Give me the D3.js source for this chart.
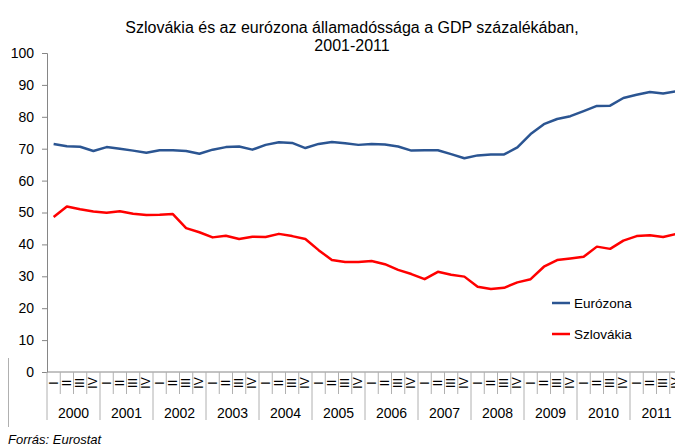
<!DOCTYPE html>
<html>
<head>
<meta charset="utf-8">
<script src="https://cdn.jsdelivr.net/npm/d3@7"></script>
<style>
  body { margin: 0; background: #fff; }
  svg { display: block; font-family: "Liberation Sans", Arial, sans-serif; }
</style>
</head>
<body>
<div id="chart"></div>
<script>
// chart data
const years    = ["2000","2001","2002","2003","2004","2005","2006","2007","2008","2009","2010","2011"]
const quarters = ["I","II","III","IV"]
const eurozone = [71.5,70.8,70.6,69.3,70.5,70.0,69.4,68.7,69.5,69.5,69.3,68.4,
                  69.7,70.5,70.7,69.7,71.2,72.0,71.8,70.2,71.5,72.1,71.7,71.2,
                  71.5,71.3,70.7,69.4,69.5,69.5,68.3,67.0,67.9,68.2,68.2,70.4,
                  74.6,77.7,79.3,80.2,81.8,83.4,83.5,85.9,86.9,87.8,87.3,88.0]
const slovakia = [48.6,51.9,51.0,50.3,49.9,50.4,49.6,49.2,49.3,49.5,45.1,43.8,
                  42.2,42.7,41.7,42.4,42.3,43.3,42.6,41.7,38.2,35.1,34.5,34.5,
                  34.8,33.8,32.0,30.7,29.1,31.4,30.5,29.9,26.7,26.0,26.4,28.1,
                  29.1,33.0,35.1,35.6,36.1,39.3,38.6,41.2,42.6,42.9,42.3,43.3]
const seriesNames = ["Eurózona","Szlovákia"]
const yTicks = [0,10,20,30,40,50,60,70,80,90,100]

const W = 675, H = 448
const MARGIN = {left: 47, top: 53, bottom: 76}
const QW = 13.25
const AXIS_GREY = "#868686"

const periods = []
years.forEach(y => quarters.forEach(q => periods.push(y + "-" + q)))

const svg = d3.select("#chart").append("svg")
    .attr("width", W)
    .attr("height", H)

const x = d3.scaleBand()
    .domain(periods)
    .range([MARGIN.left, MARGIN.left + periods.length * QW])

const y = d3.scaleLinear()
    .domain([0, 100])
    .range([H - MARGIN.bottom, MARGIN.top])

const y0 = y(0)

// title
const title = svg.append("text")
    .attr("text-anchor", "middle")
    .attr("font-size", 16)
    .attr("fill", "#000")
title.append("tspan").attr("x", 352).attr("y", 33)
    .text("Szlovákia és az eurózona államadóssága a GDP százalékában,")
title.append("tspan").attr("x", 352).attr("y", 51)
    .text("2001-2011")

// Y axis
const yAxis = svg.append("g")
    .attr("transform", `translate(${MARGIN.left},0)`)
    .call(d3.axisLeft(y).tickValues(yTicks).tickSize(5).tickPadding(8))
yAxis.selectAll("path, line").attr("stroke", AXIS_GREY)
yAxis.selectAll("text").attr("font-size", 14).attr("fill", "#000")
    .attr("font-family", "Liberation Sans, Arial, sans-serif")

// X axis line
svg.append("line")
    .attr("x1", MARGIN.left).attr("x2", W + 20)
    .attr("y1", y0).attr("y2", y0)
    .attr("stroke", AXIS_GREY)

// quarter separators & labels
const qg = svg.append("g")
qg.selectAll("line")
    .data(periods)
    .join("line")
        .attr("x1", d => x(d) + QW).attr("x2", d => x(d) + QW)
        .attr("y1", y0)
        .attr("y2", (d, i) => (i % 4 == 3) ? y0 + 48 : y0 + 22)
        .attr("stroke", "#b0b0b0")
qg.append("line")
    .attr("x1", MARGIN.left).attr("x2", MARGIN.left)
    .attr("y1", y0).attr("y2", y0 + 48)
    .attr("stroke", "#b0b0b0")
// the last quarter label runs off the picture edge, as in the source
qg.selectAll("text")
    .data(periods)
    .join("text")
        .attr("transform", d => `translate(${x(d) + QW / 2 + 4},${y0 + 11}) rotate(-90)`)
        .attr("text-anchor", "middle")
        .attr("font-size", 12)
        .attr("fill", "#000")
        .text(d => d.split("-")[1])

// year labels
svg.append("g").selectAll("text")
    .data(years)
    .join("text")
        .attr("x", d => x(d + "-I") + QW * 2)
        .attr("y", y0 + 46)
        .attr("text-anchor", "middle")
        .attr("font-size", 14)
        .attr("fill", "#000")
        .text(d => d)

// left border fragment
svg.append("line")
    .attr("x1", 8.5).attr("x2", 8.5)
    .attr("y1", 358).attr("y2", 427)
    .attr("stroke", "#b0b0b0")

// lines
const line = d3.line()
    .x((d, i) => x(periods[i]) + QW / 2)
    .y(d => y(d))

const colors = ["#2B5592", "#FF0000"]
;[eurozone, slovakia].forEach((s, k) => {
    svg.append("path")
        .datum(s)
        .attr("fill", "none")
        .attr("stroke", colors[k])
        .attr("stroke-width", 2.5)
        .attr("stroke-linejoin", "round")
        .attr("d", line)
})

// legend
seriesNames.forEach((n, k) => {
    const ly = 303 + k * 31
    svg.append("line")
        .attr("x1", 552).attr("x2", 570)
        .attr("y1", ly).attr("y2", ly)
        .attr("stroke", colors[k])
        .attr("stroke-width", 2.5)
    svg.append("text")
        .attr("x", 574).attr("y", ly + 4.5)
        .attr("font-size", 13.5)
        .attr("fill", "#000")
        .text(n)
})

// source
svg.append("text")
    .attr("x", 8).attr("y", 444)
    .attr("font-size", 13)
    .attr("font-style", "italic")
    .attr("fill", "#000")
    .text("Forrás: Eurostat")
</script>
</body>
</html>
